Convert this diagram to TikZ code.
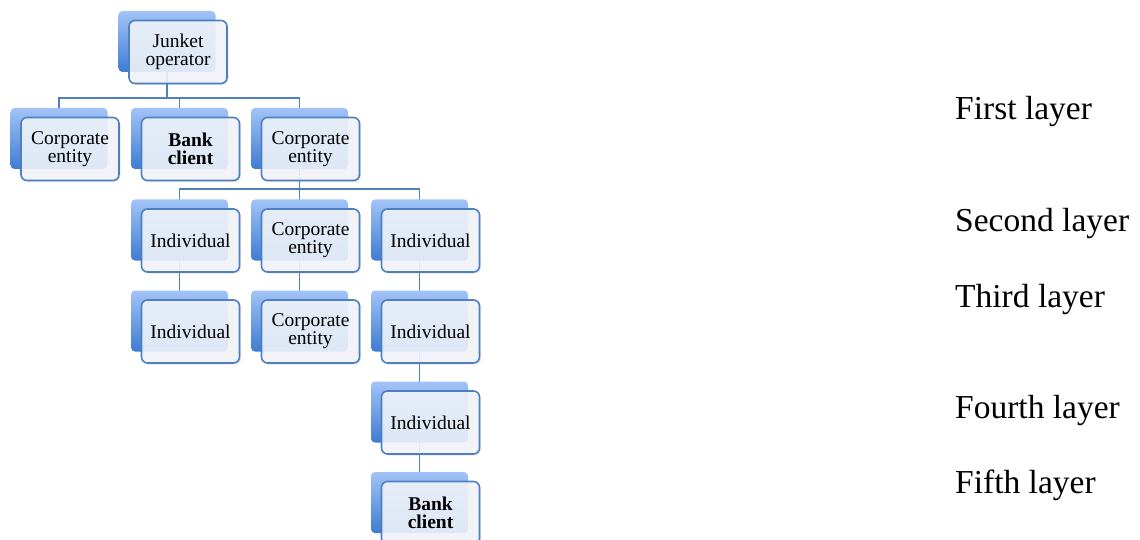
\documentclass[tikz,border=0pt]{standalone}
\usepackage{fontspec}
\setmainfont{Liberation Serif}
\usetikzlibrary{shadows,calc}
\definecolor{edge}{HTML}{4E7FBF}
\definecolor{backtop}{HTML}{A2C3F7}
\definecolor{backbot}{HTML}{3E7CD2}
\definecolor{frontfill}{HTML}{F2F6FC}
\tikzset{
  backbox/.style={rectangle, rounded corners=4pt, minimum width=97pt, minimum height=61pt, inner sep=0pt,
    top color=backtop, bottom color=backbot, draw=none},
  frontbox/.style={rectangle, rounded corners=6pt, minimum width=98pt, minimum height=63pt, inner sep=0pt,
    draw=edge, line width=1.6pt, fill=frontfill, fill opacity=0.88, text opacity=1, align=center,
    font=\fontsize{19.5}{18}\selectfont,
    drop shadow={opacity=0.18, shadow xshift=1.5pt, shadow yshift=-1.5pt}},
  conn/.style={draw=edge, line width=1.5pt},
  layerlabel/.style={anchor=base west, inner sep=0pt, font=\fontsize{33.5}{36}\selectfont}
}
\begin{document}
\begin{tikzpicture}[x=1pt,y=-1pt]
\clip (0,0) rectangle (1140,540);
\useasboundingbox (0,0) rectangle (1140,540);
% back boxes (positions)
\coordinate (jbc) at (167,41.5);
\coordinate (abc) at (59,138.5);
\coordinate (bbc) at (179.5,138.5);
\coordinate (cbc) at (299.5,138.5);
\coordinate (dbc) at (179.5,230);
\coordinate (ebc) at (299.5,230);
\coordinate (fbc) at (419.5,230);
\coordinate (gbc) at (179.5,321);
\coordinate (hbc) at (299.5,321);
\coordinate (ibc) at (419.5,321);
\coordinate (kbc) at (419.5,412);
\coordinate (lbc) at (419.5,502.5);
% connectors
\draw[conn] (jbc) -- (jbc |- 0,98) -| (abc);
\draw[conn] (jbc |- 0,98) -| (bbc);
\draw[conn] (jbc |- 0,98) -| (cbc);
\draw[conn] (cbc) -- (cbc |- 0,189) -| (dbc);
\draw[conn] (cbc |- 0,189) -| (fbc);
\draw[conn] (cbc |- 0,189) -- (ebc);
\draw[conn] (dbc) -- (gbc);
\draw[conn] (ebc) -- (hbc);
\draw[conn] (fbc) -- (ibc);
\draw[conn] (ibc) -- (kbc);
\draw[conn] (kbc) -- (lbc);
% back boxes
\foreach \n in {jb,ab,bb,cb,db,eb,fb,gb,hb,ib,kb,lb}
  \node[backbox] (\n) at (\n c) {};
% front boxes
\node[frontbox] (j) at ($(jbc)+(11,10.5)$) {Junket\\operator};
\node[frontbox] (a) at ($(abc)+(11,10.5)$) {Corporate\\entity};
\node[frontbox] (b) at ($(bbc)+(11,10.5)$) {\textbf{Bank}\\\textbf{client}};
\node[frontbox] (c) at ($(cbc)+(11,10.5)$) {Corporate\\entity};
\node[frontbox] (d) at ($(dbc)+(11,10.5)$) {Individual};
\node[frontbox] (e) at ($(ebc)+(11,10.5)$) {Corporate\\entity};
\node[frontbox] (f) at ($(fbc)+(11,10.5)$) {Individual};
\node[frontbox] (g) at ($(gbc)+(11,10.5)$) {Individual};
\node[frontbox] (h) at ($(hbc)+(11,10.5)$) {Corporate\\entity};
\node[frontbox] (i) at ($(ibc)+(11,10.5)$) {Individual};
\node[frontbox] (k) at ($(kbc)+(11,10.5)$) {Individual};
\node[frontbox] (l) at ($(lbc)+(11,10.5)$) {\textbf{Bank}\\\textbf{client}};
% layer labels
\node[layerlabel] (l1) at (955,120) {First layer};
\node[layerlabel] (l2) at (955,232) {Second layer};
\node[layerlabel] (l3) at (955,307) {Third layer};
\node[layerlabel] (l4) at (955,418) {Fourth layer};
\node[layerlabel] (l5) at (955,493) {Fifth layer};
\end{tikzpicture}
\end{document}
